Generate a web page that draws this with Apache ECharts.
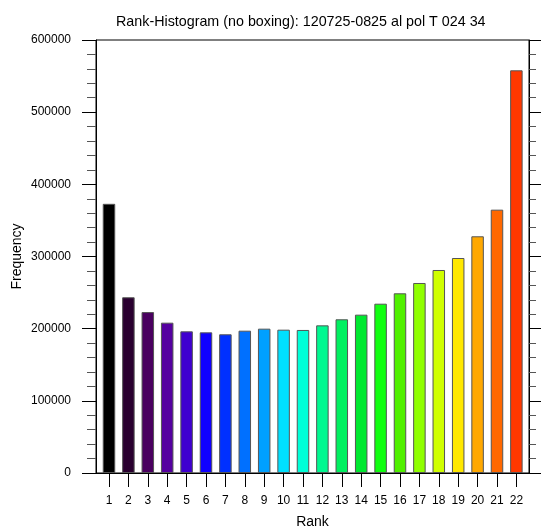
<!DOCTYPE html>
<html>
<head>
<meta charset="utf-8">
<script src="https://cdn.jsdelivr.net/npm/echarts@6/dist/echarts.min.js"></script>
<style>html,body{margin:0;padding:0;background:#fff;}#c{width:541px;height:530px;}</style>
</head>
<body>
<div id="c"></div>
<script>
var ranks = [1,2,3,4,5,6,7,8,9,10,11,12,13,14,15,16,17,18,19,20,21,22];
var frequencies = [373000,243500,223000,208300,196300,194900,192200,197200,200000,198600,198200,204600,213000,219400,234600,249000,263300,281300,297900,328000,364900,558000];
var barColors = ['#000000','#2a0030','#4a0060','#5500a0','#3f00d0','#1000ff','#0030ff','#0070ff','#00a0ff','#00e0ff','#00ffd8','#00f890','#00f060','#00e830','#10ff10','#50f000','#90ff00','#d0ff00','#ffe800','#ffa800','#ff6800','#ff3800'];
var yTicks = [0,100000,200000,300000,400000,500000,600000];
var titleText = 'Rank-Histogram (no boxing): 120725-0825 al pol T 024 34';

var font = 'Liberation Sans, Arial, Helvetica, sans-serif';
var chart = echarts.init(document.getElementById('c'), null, {renderer:'canvas'});
var data = ranks.map(function(r,i){
  return {value:[r, frequencies[i]], itemStyle:{color:barColors[i]}};
});
var yCommon = {
  type:'value', min:yTicks[0], max:yTicks[yTicks.length-1], interval:yTicks[1]-yTicks[0],
  splitLine:{show:false},
  axisLine:{show:true, lineStyle:{color:'#000', width:1}},
  axisTick:{show:true, inside:false, length:14, lineStyle:{color:'#000'}},
  minorTick:{show:true, splitNumber:5, length:9, lineStyle:{color:'#555'}}
};
chart.setOption({
  animation:false,
  backgroundColor:'#fff',
  title:{text:titleText, left:111, top:10, textStyle:{fontFamily:font, fontSize:14.3, fontWeight:'normal', color:'#000'}},
  grid:{left:96, right:12, top:40, bottom:57, outerBoundsMode:'none', containLabel:false, show:true, borderColor:'#000', borderWidth:1, backgroundColor:'transparent'},
  xAxis:{
    type:'value', min:0.33, max:22.65,
    name:'Rank', nameLocation:'middle', nameGap:42, nameMoveOverlap:false,
    nameTextStyle:{fontFamily:font, fontSize:14, color:'#000'},
    splitLine:{show:false},
    axisLine:{show:true, onZero:false, lineStyle:{color:'#000'}},
    axisTick:{show:true, inside:false, length:14, customValues:ranks, lineStyle:{color:'#000'}},
    axisLabel:{customValues:ranks, margin:22, fontFamily:font, fontSize:12, color:'#000'}
  },
  yAxis:[
    Object.assign({}, yCommon, {
      position:'left',
      name:'Frequency', nameLocation:'middle', nameGap:72, nameRotate:90, nameMoveOverlap:false,
      nameTextStyle:{fontFamily:font, fontSize:14, color:'#000'},
      axisLabel:{margin:25, fontFamily:font, fontSize:12, color:'#000', formatter:function(v){return String(v);}}
    }),
    Object.assign({}, yCommon, {
      position:'right',
      axisLabel:{show:false},
      axisTick:{show:true, inside:false, length:12, lineStyle:{color:'#000'}},
      minorTick:{show:true, splitNumber:5, length:7, lineStyle:{color:'#555'}}
    })
  ],
  series:[{
    type:'bar', yAxisIndex:0, barWidth:12.5,
    itemStyle:{borderColor:'#555', borderWidth:1},
    data:data
  }]
});
</script>
</body>
</html>
